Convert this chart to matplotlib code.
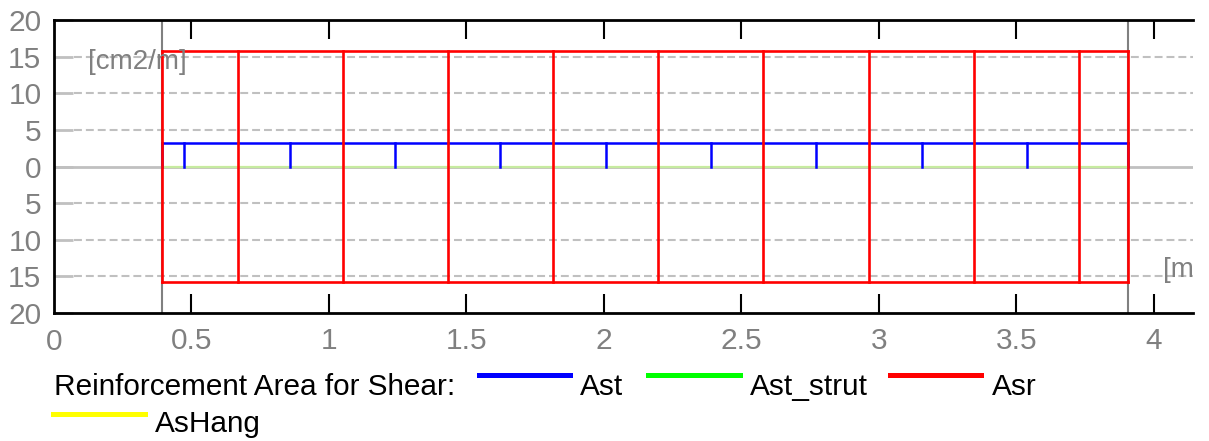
"""Reinforcement area for shear along the beam (Ast, Ast_strut, Asr, AsHang)."""

import matplotlib

matplotlib.use("Agg")
import matplotlib.pyplot as plt
from matplotlib.lines import Line2D
from matplotlib.ticker import FuncFormatter

plt.rcParams["font.family"] = ["Liberation Sans", "DejaVu Sans"]

# supports
supports = [0.394, 3.904]

# Ast: stirrups, constant value between segment boundaries
ast_edges = [0.394, 0.474, 0.857, 1.240, 1.623, 2.006, 2.390, 2.772, 3.155, 3.538, 3.904]
ast_values = [3.16] * 10

# Asr: shown mirrored (+/-)
asr_edges = [0.394, 0.669, 1.052, 1.434, 1.816, 2.198, 2.580, 2.962, 3.345, 3.727, 3.904]
asr_values = [15.7] * 10

# Ast_strut and AsHang are zero along the span
strut_x = [0.394, 3.904]
strut_values = [0.0, 0.0]
hang_x = [0.394, 3.904]
hang_values = [0.0, 0.0]

x_ticks = [0.5, 1.0, 1.5, 2.0, 2.5, 3.0, 3.5, 4.0]
y_ticks = [-20, -15, -10, -5, 0, 5, 10, 15, 20]

GREY = "#808080"
GRID = "#c0c0c0"
FS = 21.5


def step_outline(edges, values, sign=1.0):
    """Horizontal steps of a stepped diagram, each edge drawn once."""
    xs, ys = [], []
    for x0, x1, v in zip(edges[:-1], edges[1:], values):
        xs += [x0, x1]
        ys += [sign * v, sign * v]
    return xs, ys


def edge_drops(edges, values, mirror=False):
    """Vertical lines at every segment edge."""
    xs, ys = [], []
    for i, x in enumerate(edges):
        left = values[i - 1] if i > 0 else 0.0
        right = values[i] if i < len(values) else 0.0
        top = max(left, right)
        xs += [x, x, None]
        ys += [-top if mirror else 0.0, top, None]
    return xs, ys


fig = plt.figure(figsize=(12.09, 4.41), dpi=100)
ax = fig.add_axes([54 / 1209, 1 - 313 / 441, (1193 - 54) / 1209, (313 - 20) / 441])

ax.set_xlim(0, 4.142)
ax.set_ylim(-20, 20)

for y in [-15, -10, -5, 5, 10, 15]:
    ax.axhline(y, xmin=20 / 1139, color=GRID, linewidth=1.5, dashes=(3.8, 1.9), zorder=1)
ax.axhline(0, color=GRID, linewidth=2, zorder=1)
for xs in supports:
    ax.axvline(xs, color=GREY, linewidth=1.5, zorder=2)

ax.plot(hang_x, hang_values, color="yellow", linewidth=1.5, zorder=3)
ax.plot(strut_x, strut_values, color="#c6eba0", linewidth=1.5, zorder=3)

bx, by = step_outline(ast_edges, ast_values)
ax.plot(bx, by, color="blue", linewidth=1.8, zorder=4)
bx, by = edge_drops(ast_edges, ast_values)
ax.plot(bx, by, color="blue", linewidth=1.8, zorder=4)

for sign in (1.0, -1.0):
    rx, ry = step_outline(asr_edges, asr_values, sign)
    ax.plot(rx, ry, color="red", linewidth=1.9, zorder=5)
rx, ry = edge_drops(asr_edges, asr_values, mirror=True)
ax.plot(rx, ry, color="red", linewidth=1.9, zorder=5)

ax.text(0.124, 14.3, "[cm2/m]", color=GREY, fontsize=20, ha="left", va="center", zorder=6)
ax.text(4.033, -14.1, "[m]", color=GREY, fontsize=20, ha="left", va="center", clip_on=True, zorder=6)

ax.set_xticks(x_ticks)
ax.set_xticklabels(["0.5", "1", "1.5", "2", "2.5", "3", "3.5", "4"])
ax.set_yticks(y_ticks)
ax.yaxis.set_major_formatter(FuncFormatter(lambda v, _: f"{abs(v):g}"))
ax.tick_params(axis="x", direction="in", length=14, width=1.5, color="black",
               top=True, labelsize=FS, labelcolor=GREY, pad=10)
ax.tick_params(axis="y", direction="in", length=14, width=2, color=GRID,
               labelsize=FS, labelcolor=GREY, pad=9)
ax.text(0, -22.0, "0", color=GREY, fontsize=FS, ha="center", va="top", clip_on=False)

ax.spines["right"].set_visible(False)
for side in ["left", "top", "bottom"]:
    ax.spines[side].set_linewidth(2)
    ax.spines[side].set_color("black")

# legend drawn by hand to follow the original spacing
LFS = 21.4
fig.text(54 / 1209, 1 - 387 / 441, "Reinforcement Area for Shear:", fontsize=LFS, va="center", ha="left")
legend_items = [
    ("blue", 479, 570, 375, "Ast", 580, 387),
    ("#00ff00", 648, 740, 375, "Ast_strut", 750, 387),
    ("red", 890, 981, 375, "Asr", 992, 387),
    ("yellow", 53, 145, 414, "AsHang", 155, 424),
]
for color, x0, x1, ly, label, tx, ty in legend_items:
    fig.add_artist(Line2D([x0 / 1209, x1 / 1209], [1 - ly / 441, 1 - ly / 441],
                          color=color, linewidth=3.6, transform=fig.transFigure))
    fig.text(tx / 1209, 1 - ty / 441, label, fontsize=LFS, va="center", ha="left")

fig.savefig("out.png", dpi=100)
